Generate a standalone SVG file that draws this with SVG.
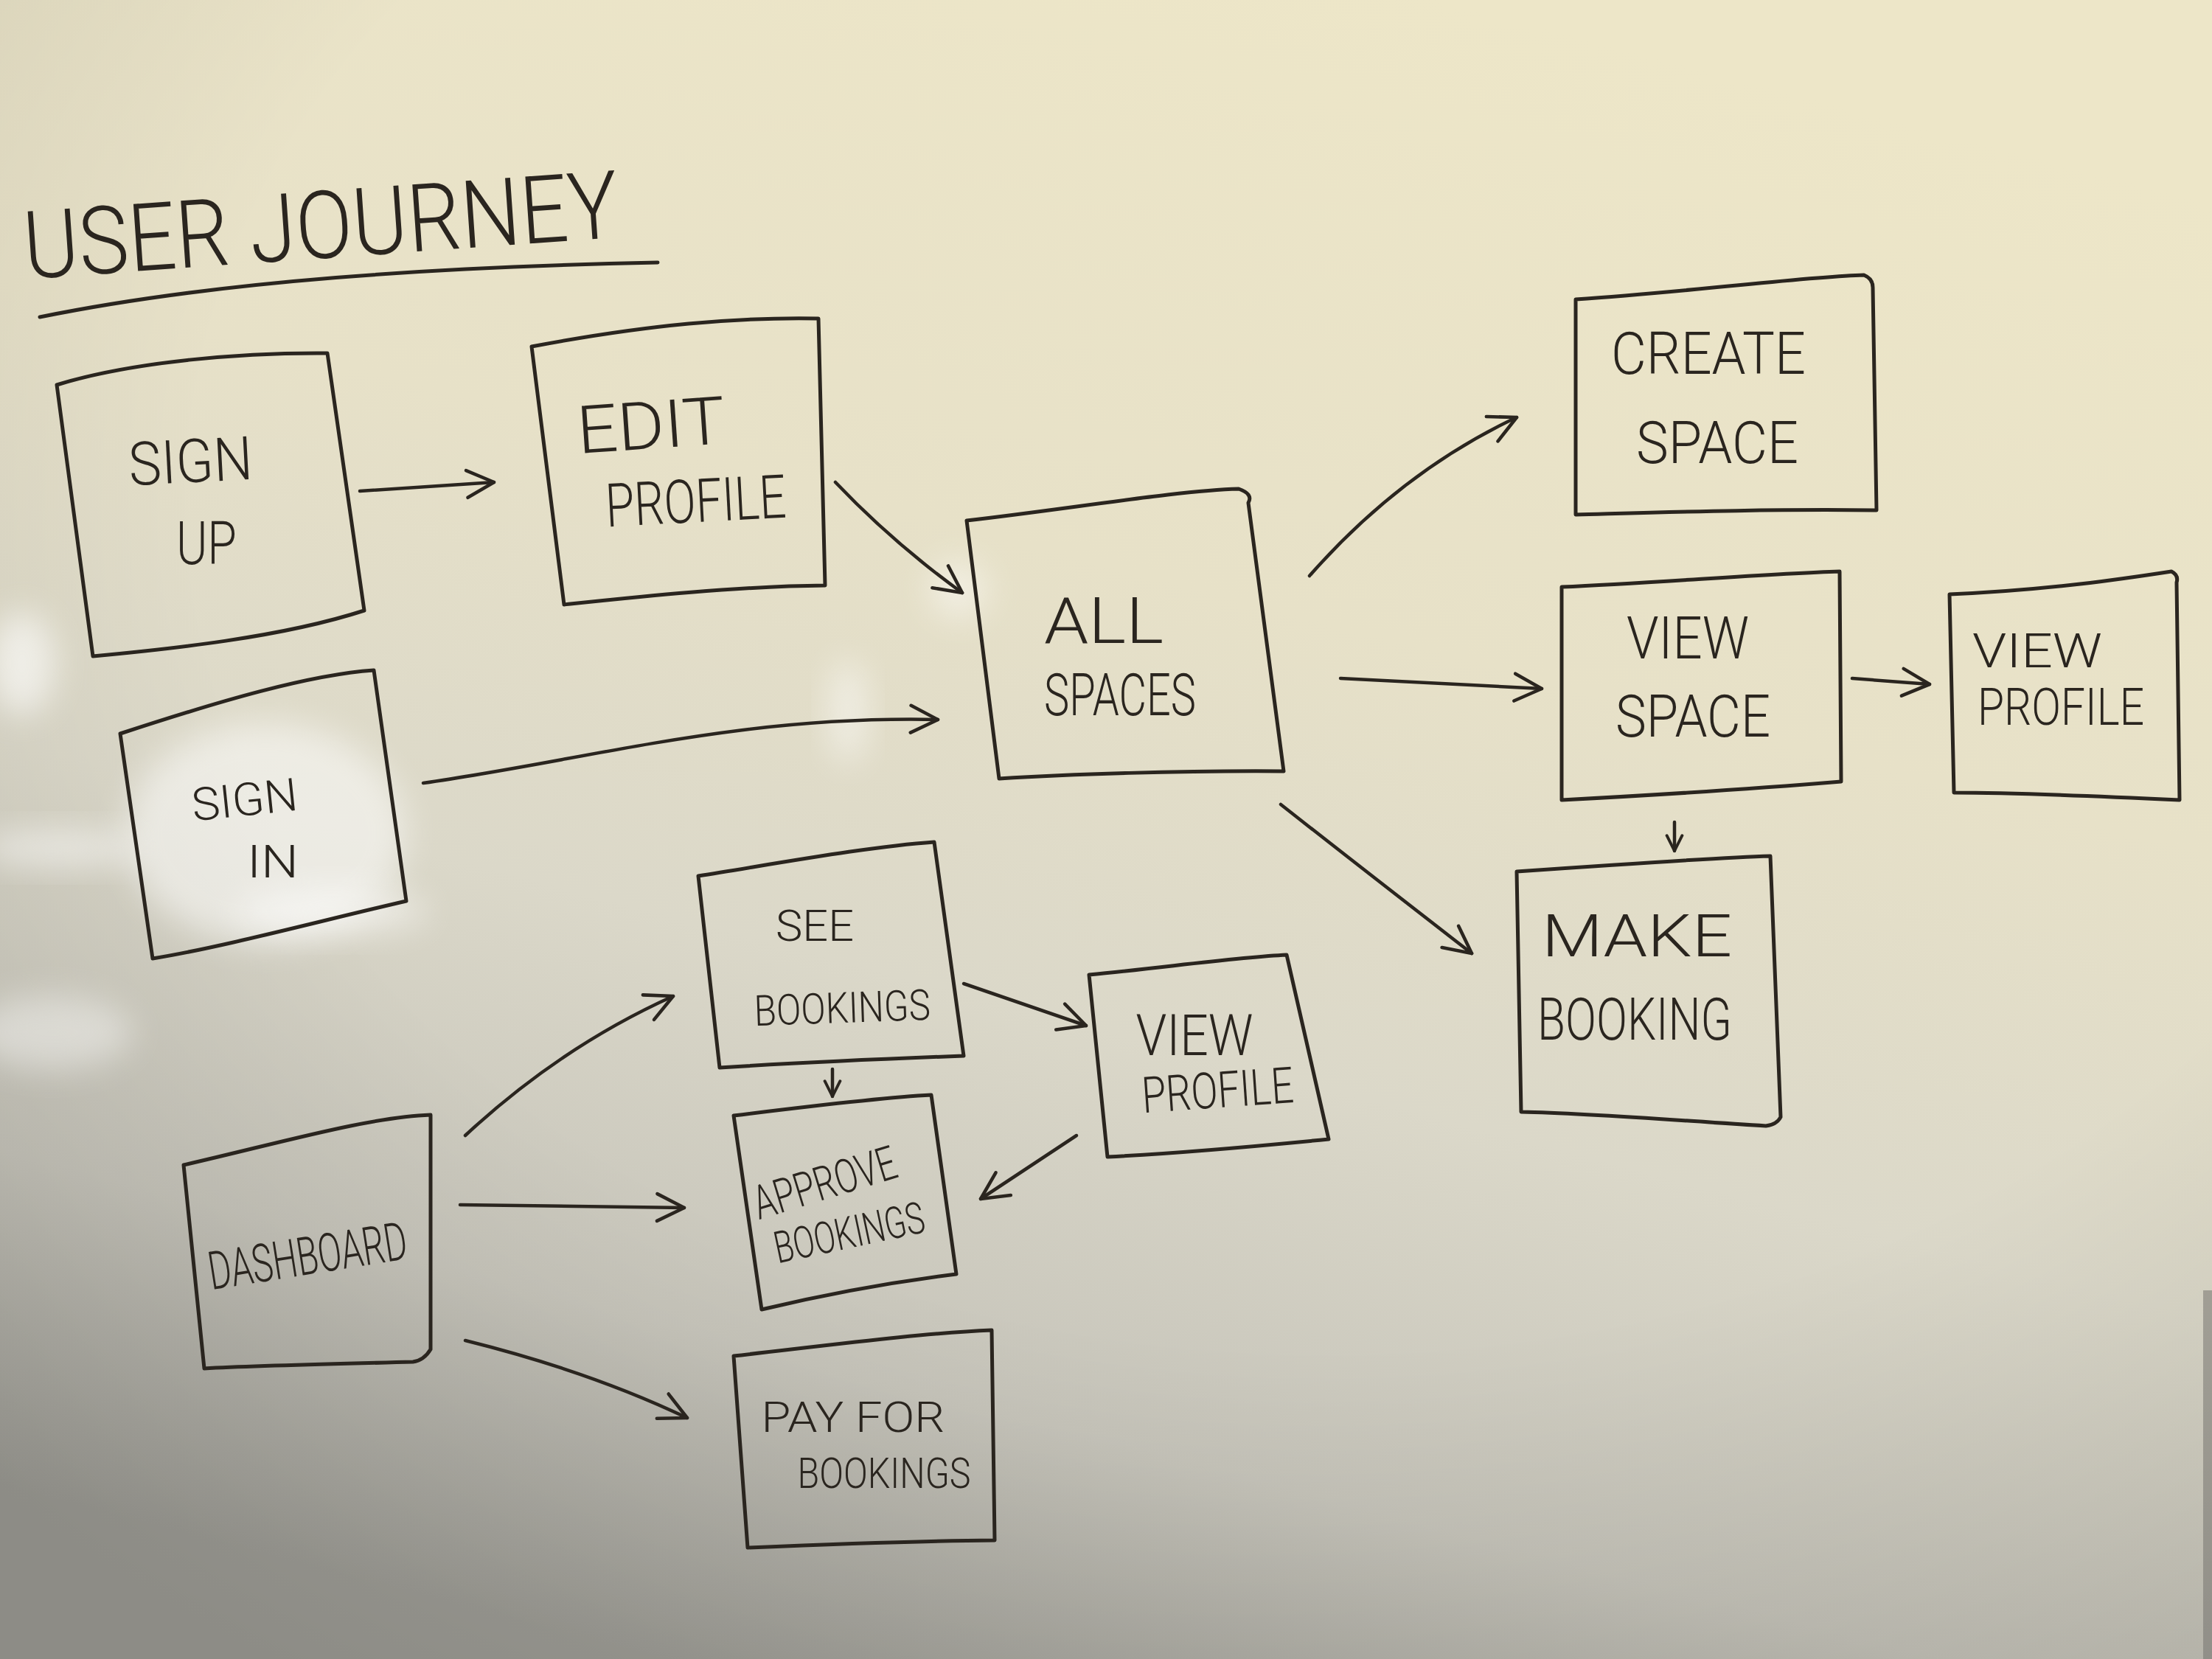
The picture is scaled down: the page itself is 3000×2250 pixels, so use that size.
<svg xmlns="http://www.w3.org/2000/svg" width="3000" height="2250" viewBox="0 0 3000 2250">
<defs>
  <linearGradient id="bg" x1="0.65" y1="0" x2="0.3" y2="1">
    <stop offset="0" stop-color="#ede6c8"/>
    <stop offset="0.35" stop-color="#e7e1c8"/>
    <stop offset="0.6" stop-color="#dbd8c9"/>
    <stop offset="0.82" stop-color="#c6c4ba"/>
    <stop offset="1" stop-color="#a09f98"/>
  </linearGradient>
  <radialGradient id="vign" cx="0.6" cy="0.3" r="0.85">
    <stop offset="0.6" stop-color="#000" stop-opacity="0"/>
    <stop offset="1" stop-color="#000" stop-opacity="0.12"/>
  </radialGradient>
  <filter id="blur" x="-50%" y="-50%" width="200%" height="200%"><feGaussianBlur stdDeviation="22"/></filter>
  <marker id="ah" viewBox="0 0 20 20" refX="18" refY="10" markerWidth="46" markerHeight="46" markerUnits="userSpaceOnUse" orient="auto">
    <path d="M2,2 L18,10 L2,18" fill="none" stroke="#2a251f" stroke-width="2" stroke-linecap="round" stroke-linejoin="round"/>
  </marker>
  <marker id="ahs" viewBox="0 0 20 20" refX="18" refY="10" markerWidth="26" markerHeight="26" markerUnits="userSpaceOnUse" orient="auto">
    <path d="M2,2 L18,10 L2,18" fill="none" stroke="#2a251f" stroke-width="3" stroke-linecap="round" stroke-linejoin="round"/>
  </marker>
</defs>
<style>
  .box{fill:none;stroke:#2a251f;stroke-width:5;stroke-linejoin:round;stroke-linecap:round}
  .con{fill:none;stroke:#2a251f;stroke-width:4.5;stroke-linecap:round;marker-end:url(#ah)}
  .cons{fill:none;stroke:#2a251f;stroke-width:4.5;stroke-linecap:round;marker-end:url(#ahs)}
  .lbl{font-family:Roboto,"Liberation Sans",sans-serif;font-weight:300;fill:#2a251f;text-anchor:middle}
  .glare{fill:#ffffff;filter:url(#blur)}
</style>

<rect width="3000" height="2250" fill="url(#bg)"/>
<rect width="3000" height="2250" fill="url(#vign)"/>
<g id="glare">
  <ellipse class="glare" cx="360" cy="1130" rx="190" ry="150" opacity="0.5"/>
  <ellipse class="glare" cx="30" cy="900" rx="45" ry="70" opacity="0.6"/>
  <ellipse class="glare" cx="80" cy="1150" rx="110" ry="25" opacity="0.5"/>
  <ellipse class="glare" cx="450" cy="1235" rx="130" ry="30" opacity="0.5"/>
  <ellipse class="glare" cx="70" cy="1400" rx="110" ry="50" opacity="0.4"/>
  <ellipse class="glare" cx="1150" cy="965" rx="25" ry="70" opacity="0.5"/>
  <ellipse class="glare" cx="1300" cy="800" rx="40" ry="40" opacity="0.45"/>
  <rect x="2988" y="1750" width="12" height="500" fill="#6d6c67" opacity="0.5"/>
</g>

<g id="title">
  <text class="lbl" x="438" y="350" font-size="128" textLength="808" lengthAdjust="spacingAndGlyphs" transform="rotate(-4 438 350)">USER JOURNEY</text>
  <path d="M54,430 C300,380 600,362 892,356" fill="none" stroke="#2a251f" stroke-width="5" stroke-linecap="round"/>
</g>

<g id="sign-up">
  <path class="box" d="M77,522 C180,490 330,478 444,479 L494,828 C380,865 230,880 126,890 Z"/>
  <text class="lbl" x="260" y="654" font-size="82" textLength="168" lengthAdjust="spacingAndGlyphs" transform="rotate(-3 260 654)">SIGN</text>
  <text class="lbl" x="280" y="765" font-size="82" textLength="82" lengthAdjust="spacingAndGlyphs">UP</text>
</g>

<g id="edit-profile">
  <path class="box" d="M721,470 C880,440 1000,430 1110,432 L1119,794 C1000,795 860,810 765,820 Z"/>
  <text class="lbl" x="885" y="608" font-size="90" textLength="201" lengthAdjust="spacingAndGlyphs" transform="rotate(-4 885 608)">EDIT</text>
  <text class="lbl" x="945" y="708" font-size="82" textLength="245" lengthAdjust="spacingAndGlyphs" transform="rotate(-3 945 708)">PROFILE</text>
</g>

<g id="sign-in">
  <path class="box" d="M163,995 C300,950 420,915 507,909 L551,1222 C430,1250 300,1285 207,1300 Z"/>
  <text class="lbl" x="334" y="1106" font-size="62" textLength="144" lengthAdjust="spacingAndGlyphs" transform="rotate(-6 334 1106)">SIGN</text>
  <text class="lbl" x="370" y="1190" font-size="62" textLength="70" lengthAdjust="spacingAndGlyphs">IN</text>
</g>

<g id="all-spaces">
  <path class="box" d="M1311,706 C1450,690 1600,665 1680,663 Q1700,670 1693,682 L1741,1046 C1600,1045 1450,1050 1355,1056 Z"/>
  <text class="lbl" x="1497" y="872" font-size="88" textLength="162" lengthAdjust="spacingAndGlyphs">ALL</text>
  <text class="lbl" x="1519" y="970" font-size="80" textLength="206" lengthAdjust="spacingAndGlyphs">SPACES</text>
</g>

<g id="create-space">
  <path class="box" d="M2137,406 C2300,395 2450,375 2528,373 Q2540,378 2540,390 L2545,692 C2400,690 2250,695 2137,698 Z"/>
  <text class="lbl" x="2317" y="507" font-size="80" textLength="264" lengthAdjust="spacingAndGlyphs">CREATE</text>
  <text class="lbl" x="2329" y="628" font-size="80" textLength="220" lengthAdjust="spacingAndGlyphs">SPACE</text>
</g>

<g id="view-space">
  <path class="box" d="M2118,796 C2250,790 2400,778 2495,775 L2497,1060 C2400,1068 2250,1078 2118,1085 Z"/>
  <text class="lbl" x="2289" y="893" font-size="80" textLength="166" lengthAdjust="spacingAndGlyphs">VIEW</text>
  <text class="lbl" x="2296" y="999" font-size="80" textLength="210" lengthAdjust="spacingAndGlyphs">SPACE</text>
</g>

<g id="view-profile-right">
  <path class="box" d="M2644,806 C2780,800 2880,785 2945,775 Q2955,780 2952,790 L2956,1085 C2850,1080 2740,1075 2650,1075 Z"/>
  <text class="lbl" x="2763" y="905" font-size="64" textLength="176" lengthAdjust="spacingAndGlyphs">VIEW</text>
  <text class="lbl" x="2795" y="983" font-size="70" textLength="226" lengthAdjust="spacingAndGlyphs">PROFILE</text>
</g>

<g id="make-booking">
  <path class="box" d="M2057,1182 C2200,1172 2330,1163 2401,1161 L2415,1515 Q2410,1525 2395,1527 C2280,1520 2160,1510 2063,1508 Z"/>
  <text class="lbl" x="2220" y="1297" font-size="80" textLength="258" lengthAdjust="spacingAndGlyphs">MAKE</text>
  <text class="lbl" x="2217" y="1410" font-size="80" textLength="264" lengthAdjust="spacingAndGlyphs">BOOKING</text>
</g>

<g id="see-bookings">
  <path class="box" d="M947,1188 C1060,1170 1180,1148 1267,1142 L1307,1432 C1200,1436 1070,1442 976,1448 Z"/>
  <text class="lbl" x="1105" y="1276" font-size="60" textLength="106" lengthAdjust="spacingAndGlyphs">SEE</text>
  <text class="lbl" x="1143" y="1387" font-size="58" textLength="239" lengthAdjust="spacingAndGlyphs" transform="rotate(-2 1143 1387)">BOOKINGS</text>
</g>

<g id="view-profile-mid">
  <path class="box" d="M1477,1322 C1580,1312 1680,1298 1745,1295 L1802,1545 C1700,1555 1580,1565 1502,1569 Z"/>
  <text class="lbl" x="1620" y="1431" font-size="78" textLength="159" lengthAdjust="spacingAndGlyphs">VIEW</text>
  <text class="lbl" x="1653" y="1502" font-size="68" textLength="206" lengthAdjust="spacingAndGlyphs" transform="rotate(-4 1653 1502)">PROFILE</text>
</g>

<g id="approve-bookings">
  <path class="box" d="M995,1513 C1100,1500 1200,1488 1263,1485 L1297,1728 C1200,1740 1100,1760 1033,1776 Z"/>
  <text class="lbl" x="1125" y="1625" font-size="64" textLength="200" lengthAdjust="spacingAndGlyphs" transform="rotate(-17 1125 1625)">APPROVE</text>
  <text class="lbl" x="1156" y="1692" font-size="60" textLength="207" lengthAdjust="spacingAndGlyphs" transform="rotate(-12 1156 1692)">BOOKINGS</text>
</g>

<g id="dashboard">
  <path class="box" d="M249,1580 C380,1550 500,1515 584,1512 L584,1830 Q575,1845 560,1847 C450,1850 350,1852 277,1856 Z"/>
  <text class="lbl" x="421" y="1728" font-size="72" textLength="272" lengthAdjust="spacingAndGlyphs" transform="rotate(-9 421 1728)">DASHBOARD</text>
</g>

<g id="pay-for-bookings">
  <path class="box" d="M995,1839 C1120,1825 1250,1808 1345,1804 L1349,2089 C1230,2090 1110,2095 1014,2099 Z"/>
  <text class="lbl" x="1157" y="1942" font-size="58" textLength="249" lengthAdjust="spacingAndGlyphs">PAY FOR</text>
  <text class="lbl" x="1199" y="2018" font-size="58" textLength="235" lengthAdjust="spacingAndGlyphs">BOOKINGS</text>
</g>

<g id="connectors">
  <path class="con" d="M488,666 L670,654"/>
  <path class="con" d="M1133,654 Q1210,735 1305,804"/>
  <path class="con" d="M574,1062 C800,1030 1000,970 1272,976"/>
  <path class="con" d="M1776,781 Q1900,640 2057,566"/>
  <path class="con" d="M1818,920 L2091,934"/>
  <path class="con" d="M1737,1091 Q1850,1180 1996,1293"/>
  <path class="con" d="M2512,920 L2617,928"/>
  <path class="cons" d="M2271,1115 L2271,1154"/>
  <path class="con" d="M1307,1334 L1473,1391"/>
  <path class="cons" d="M1129,1450 L1129,1487"/>
  <path class="con" d="M1460,1540 L1330,1626"/>
  <path class="con" d="M631,1540 Q760,1420 913,1351"/>
  <path class="con" d="M624,1634 L928,1638"/>
  <path class="con" d="M631,1818 Q800,1860 932,1923"/>
</g>
</svg>
